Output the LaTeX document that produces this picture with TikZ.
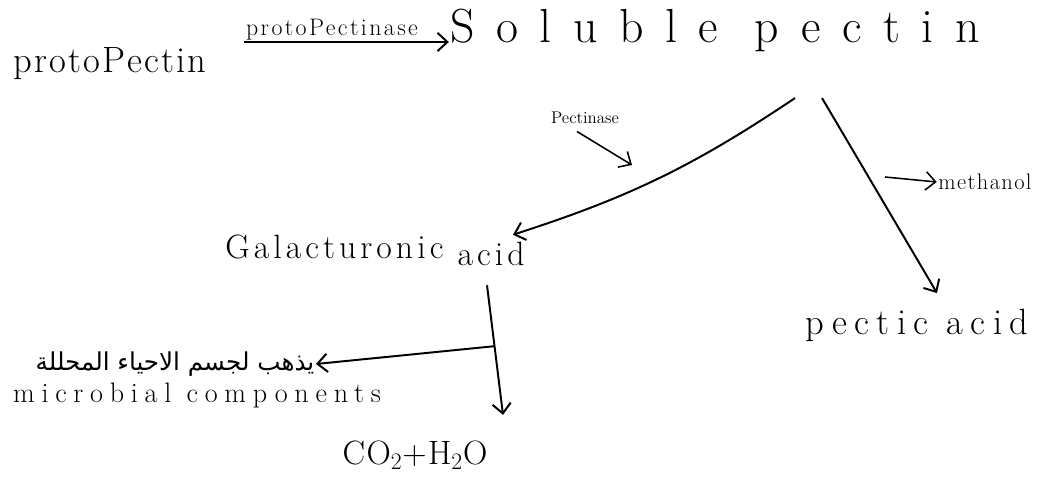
\documentclass[tikz,border=0pt]{standalone}
\usepackage{fontspec}
\usepackage{tikz}
\usetikzlibrary{arrows.meta,calc}
\setmainfont{Latin Modern Roman}
\TeXXeTstate=1
\newfontfamily\arabicfont[Script=Arabic]{DejaVu Sans}
% handwriting-like sizes: size, letter spacing
\newcommand{\hw}[2]{\fontsize{#1}{#1}\selectfont\addfontfeature{LetterSpace=#2}}

\tikzset{
  arr/.style={-{Straight Barb[length=7pt,width=13pt]}, line width=1.4pt},
  lbl/.style={inner sep=1pt}
}

\begin{document}
\begin{tikzpicture}[x=0.025cm, y=0.025cm]
            \useasboundingbox (0,0) rectangle (1049,-477);

            \node[lbl] (proto) at (110,-64) {\hw{26}{6}protoPectin};
            \node[lbl, anchor=south] (enz) at (332,-42) {\hw{17}{10}protoPectinase};
            \node[lbl] (soluble) at (715,-30) {\hw{34}{45}Soluble pectin};

            \node[lbl] (galact) at (375,-250) {\hw{24}{12}Galacturonic \raisebox{-0.5ex}{acid}};
            \node[lbl] (pectic) at (917,-325) {\hw{26}{20}pectic acid};
            \node[lbl] (pectinase) at (585,-118) {\hw{12}{0}Pectinase};
            \node[lbl] (methanol) at (985,-182) {\hw{16}{6}methanol};

            \node[lbl] (arabic) at (175,-364) {\arabicfont\fontsize{17.5}{17.5}\selectfont\beginR يذهب لجسم الاحياء المحللة\endR};
            \node[lbl] (micro) at (197,-395) {\hw{20}{24}microbial components};
            \node[lbl] (co2) at (415,-455) {\hw{24}{4}CO\textsubscript{2}+H\textsubscript{2}O};

            % main conversion
            \draw[arr] (enz.south west) -- (soluble.west |- enz.south);

            % soluble pectin splits
            \draw[arr] ([shift={(80,-45)}]soluble.south) to[bend left=8] ([shift={(138,-2)}]galact.north);
            \draw[arr] ([shift={(107,-45)}]soluble.south) -- ([shift={(20,14)}]pectic.north);

            \coordinate (pk) at (632,-165);
            \draw[arr, line width=1.1pt] ([shift={(-8,-6)}]pectinase.south) -- (pk);
            \coordinate (ms) at (885,-177);
            \draw[arr, line width=1.1pt] (ms) -- (methanol.west);

            % galacturonic acid breakdown
            \coordinate (gs) at ([shift={(112,-18)}]galact.south);
            \coordinate (ge) at ([shift={(88,24)}]co2.north);
            \draw[arr] (gs) -- (ge);
            \draw[arr] ($(gs)!0.47!(ge)$) -- (arabic.east);
\end{tikzpicture}
\end{document}
